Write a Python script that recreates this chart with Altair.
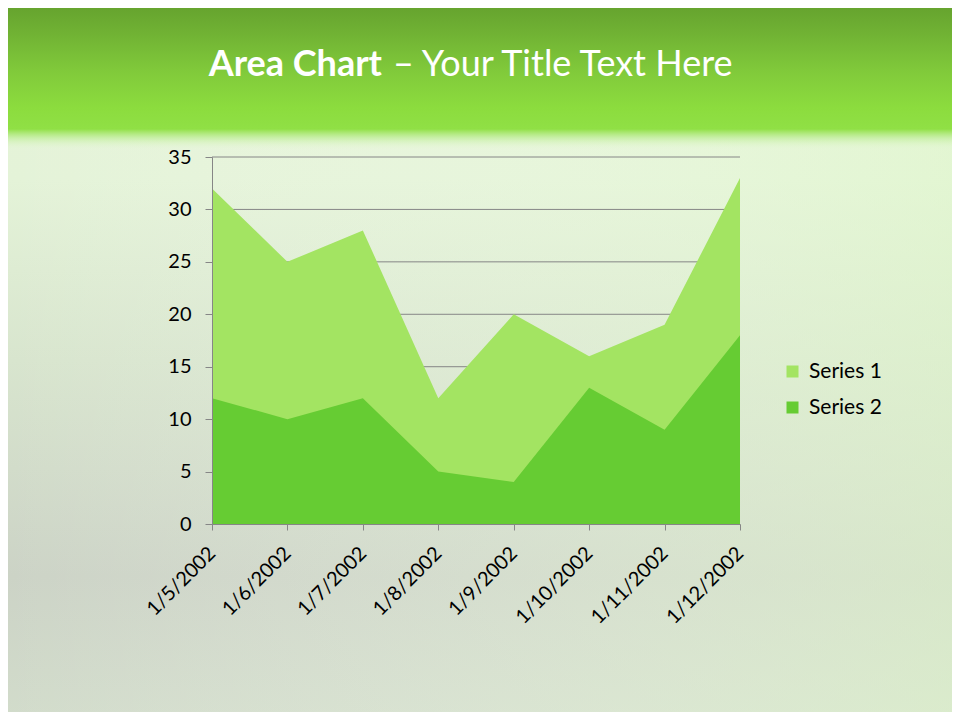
import altair as alt
import pandas as pd

# ---- data ----
dates = ["1/5/2002", "1/6/2002", "1/7/2002", "1/8/2002",
         "1/9/2002", "1/10/2002", "1/11/2002", "1/12/2002"]
series1 = [32, 25, 28, 12, 20, 16, 19, 33]
series2 = [12, 10, 12, 5, 4, 13, 9, 18]
series_names = ["Series 1", "Series 2"]
series_colors = ["#a3e462", "#66cc33"]
y_ticks = [0, 5, 10, 15, 20, 25, 30, 35]
title_bold = "Area Chart"
title_rest = "– Your Title Text Here"

rows = []
for d, a, b in zip(dates, series1, series2):
    rows.append({"date": d, "series": series_names[0], "value": a})
    rows.append({"date": d, "series": series_names[1], "value": b})
df = pd.DataFrame(rows)
grid_df = pd.DataFrame({"v": y_ticks})
one = pd.DataFrame({"k": [0]})

FONT = "Lato"
W, H = 528, 367
# plot origin sits at page (212,157)
X0, Y0, X1, Y1 = -212, -157, 748, 563


def grad(stops, vertical=True):
    return alt.LinearGradient(
        gradient="linear",
        stops=[alt.GradientStop(offset=o, color=c) for o, c in stops],
        x1=0, y1=0, x2=0 if vertical else 1, y2=1 if vertical else 0)


body = alt.Chart(one).mark_rect(color=grad([
    (0.0, "#e6f4d8"), (0.25, "#e4f3d8"), (0.5, "#d8e5ce"),
    (0.8, "#ccd3c6"), (1.0, "#d2dccb")])).encode(
    x=alt.value(X0), x2=alt.value(X1), y=alt.value(Y0), y2=alt.value(Y1))

overlay = alt.Chart(one).mark_rect(color=grad([
    (0.0, "rgba(255,255,255,0)"), (0.5, "rgba(240,252,230,0.25)"),
    (1.0, "rgba(225,248,205,0.55)")], vertical=False)).encode(
    x=alt.value(X0), x2=alt.value(X1), y=alt.value(Y0 + 140), y2=alt.value(Y1))

header = alt.Chart(one).mark_rect(color=grad([
    (0.0, "#63a02d"), (0.2, "#6fb033"), (0.5, "#82cc3b"),
    (0.72, "#8cdc3e"), (0.86, "#90e045"), (0.92, "rgba(190,238,150,0.7)"),
    (1.0, "rgba(230,248,215,0)")])).encode(
    x=alt.value(X0), x2=alt.value(X1), y=alt.value(Y0), y2=alt.value(Y0 + 150))

t1 = alt.Chart(one).mark_text(font=FONT, fontSize=36, fontWeight="bold",
                              color="white", align="right",
                              baseline="alphabetic").encode(
    x=alt.value(382 - 212), y=alt.value(76 - 157), text=alt.value(title_bold))
t2 = alt.Chart(one).mark_text(font=FONT, fontSize=36, fontWeight="normal",
                              color="white", align="left",
                              baseline="alphabetic").encode(
    x=alt.value(393 - 212), y=alt.value(76 - 157), text=alt.value(title_rest))

yscale = alt.Scale(domain=[0, 35], nice=False, zero=True)
yaxis = alt.Axis(values=y_ticks, title=None, grid=False, labelFont=FONT,
                 labelFontSize=20, labelColor="#000000", labelPadding=14,
                 tickSize=7, tickColor="#868686", domainColor="#868686",
                 zindex=1)

gridlines = alt.Chart(grid_df).mark_rule(color="#868686", strokeWidth=1).encode(
    y=alt.Y("v:Q", scale=yscale, axis=yaxis))

areas = alt.Chart(df).mark_area(opacity=1).encode(
    x=alt.X("date:O", sort=dates, scale=alt.Scale(padding=0),
            axis=alt.Axis(title=None, labelAngle=-45, labelAlign="right",
                          labelBaseline="middle", labelFont=FONT,
                          labelFontSize=20, labelColor="#000000",
                          labelPadding=20, tickSize=6, tickColor="#868686",
                          domainColor="#868686", zindex=1)),
    y=alt.Y("value:Q", stack=None, scale=yscale, axis=yaxis),
    color=alt.Color("series:N",
                    scale=alt.Scale(domain=series_names, range=series_colors),
                    legend=alt.Legend(title=None, orient="none",
                                      legendX=570, legendY=204,
                                      symbolType="square", symbolSize=144,
                                      symbolStrokeWidth=0, symbolOpacity=1,
                                      labelFont=FONT, labelFontSize=21,
                                      labelColor="#000000", labelOffset=6,
                                      rowPadding=14)),
    order=alt.Order("series:N"),
)

chart = alt.layer(body, overlay, header, t1, t2, gridlines, areas).properties(
    width=W, height=H,
    autosize=alt.AutoSizeParams(type="none"),
    padding={"left": 204, "top": 149, "right": 212, "bottom": 188},
    background="#dbe6d2",
).configure_view(strokeWidth=0)

chart.save("out.html", embed_options={"renderer": "svg", "actions": False})
